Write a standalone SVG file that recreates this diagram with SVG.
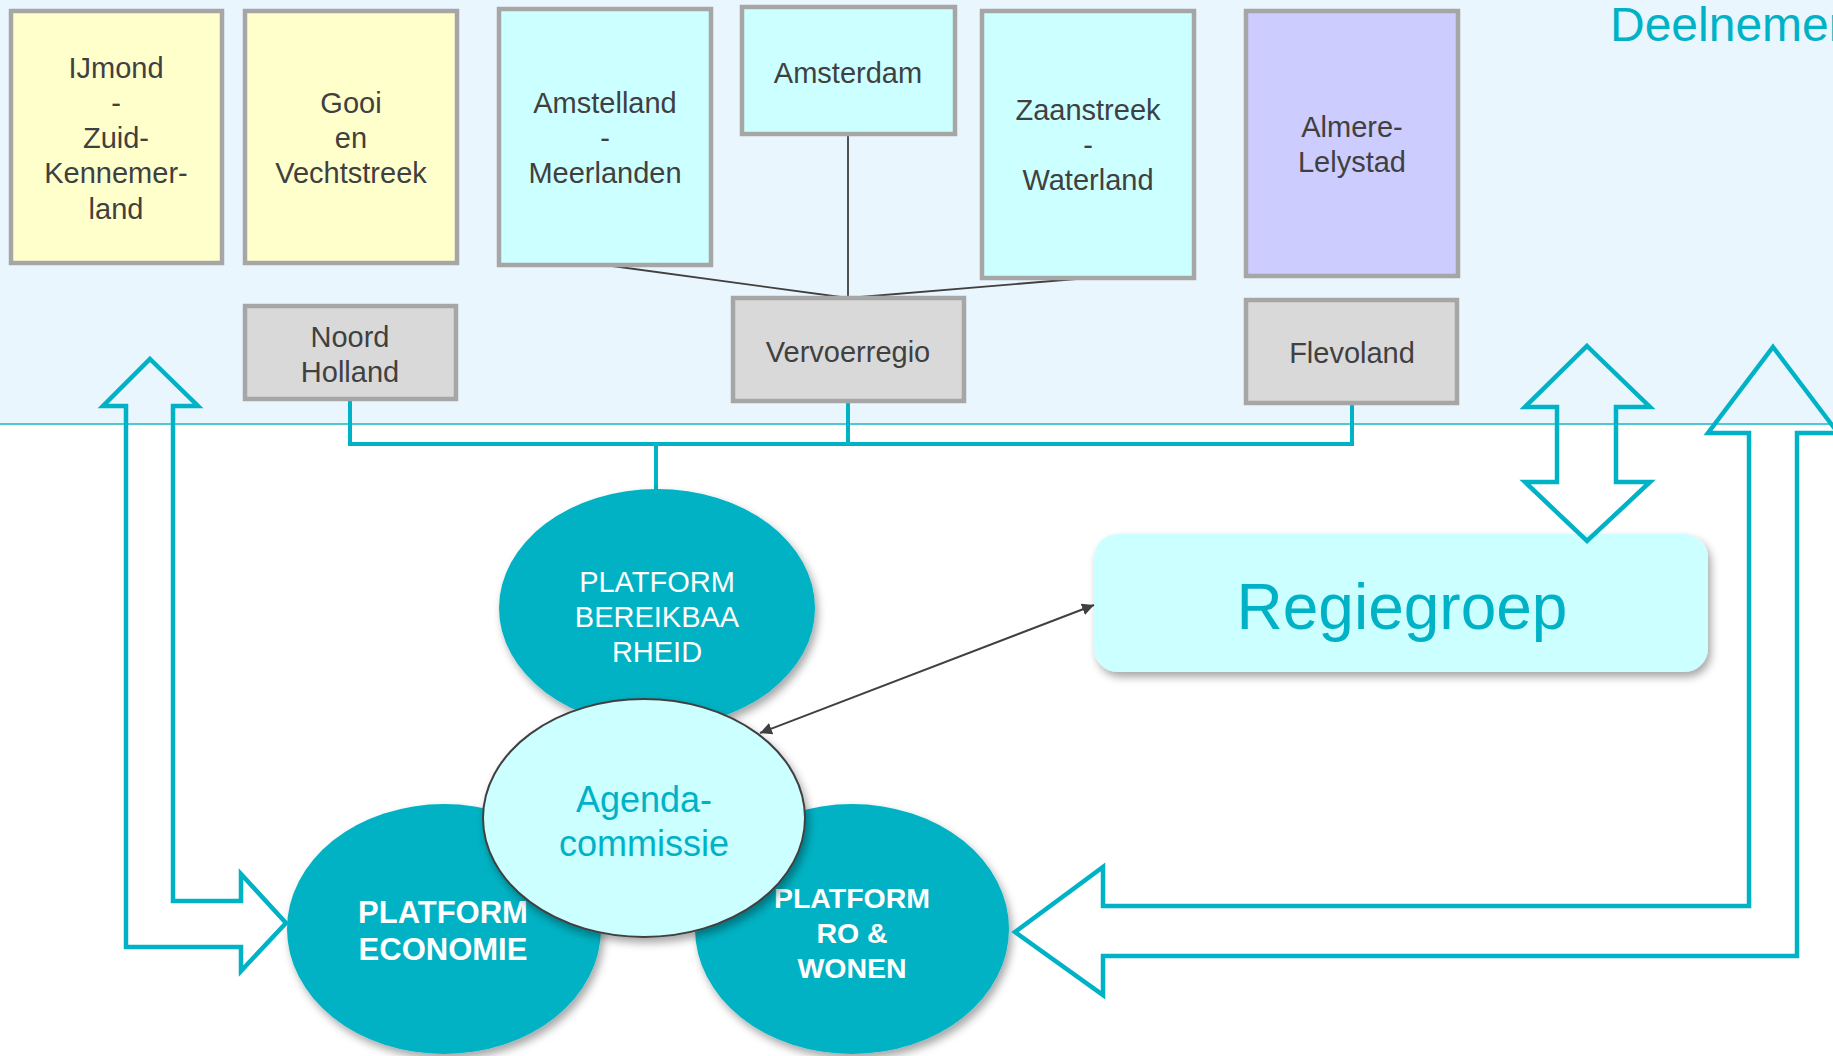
<svg xmlns="http://www.w3.org/2000/svg" width="1833" height="1056" viewBox="0 0 1833 1056">
<defs>
<style>
.box{stroke:#A6A6A6;stroke-width:4.5}
.yel{fill:#FFFFCC}
.cyn{fill:#CCFFFF}
.pur{fill:#CCCCFF}
.gry{fill:#D9D9D9}
.bt{font-family:"Liberation Sans",Arial,sans-serif;font-size:29px;fill:#404040;text-anchor:middle}
.wt{font-family:"Liberation Sans",Arial,sans-serif;fill:#FFFFFF;text-anchor:middle}
.ct{font-family:"Liberation Sans",Arial,sans-serif;fill:#00B2C6;text-anchor:middle}
.thin{stroke:#404040;stroke-width:1.8;fill:none}
.cline{stroke:#00B2C6;stroke-width:4;fill:none}
.bigarrow{stroke:#00B2C6;stroke-width:4.5;fill:none;stroke-linejoin:miter}
.plat{fill:#00B2C3}
</style>
<filter id="sh" x="-20%" y="-20%" width="150%" height="150%">
<feDropShadow dx="3" dy="5" stdDeviation="4" flood-color="#000" flood-opacity="0.35"/>
</filter>
<marker id="ah" viewBox="0 0 10 10" refX="10" refY="5" markerWidth="12" markerHeight="12" markerUnits="userSpaceOnUse" orient="auto-start-reverse">
<path d="M0,0 L10,5 L0,10 z" fill="#404040"/>
</marker>
</defs>

<rect x="0" y="0" width="1833" height="424" fill="#EAF6FE"/>
<rect x="0" y="424" width="1833" height="632" fill="#FFFFFF"/>
<line x1="0" y1="424" x2="1833" y2="424" stroke="#4FC8D6" stroke-width="2"/>

<text x="1610" y="41" font-family="Liberation Sans, Arial, sans-serif" font-size="48" fill="#00B2C6">Deelnemer</text>

<g id="connectors">
<line class="thin" x1="848" y1="134" x2="848" y2="298"/>
<line class="thin" x1="605" y1="265" x2="848" y2="298"/>
<line class="thin" x1="1088" y1="278" x2="848" y2="298"/>
<polyline class="cline" points="350,399 350,444 1352,444 1352,403"/>
<line class="cline" x1="848" y1="401" x2="848" y2="444"/>
<line class="cline" x1="656" y1="444" x2="656" y2="490"/>
</g>

<g id="ijmond"><rect class="box yel" x="11" y="11" width="211" height="252"/>
<text class="bt" x="116" y="78">IJmond</text><text class="bt" x="116" y="113">-</text><text class="bt" x="116" y="148">Zuid-</text><text class="bt" x="116" y="183">Kennemer-</text><text class="bt" x="116" y="219">land</text></g>
<g id="gooi"><rect class="box yel" x="245" y="11" width="212" height="252"/>
<text class="bt" x="351" y="113">Gooi</text><text class="bt" x="351" y="148">en</text><text class="bt" x="351" y="183">Vechtstreek</text></g>
<g id="amstelland"><rect class="box cyn" x="499" y="9" width="212" height="256"/>
<text class="bt" x="605" y="113">Amstelland</text><text class="bt" x="605" y="148">-</text><text class="bt" x="605" y="183">Meerlanden</text></g>
<g id="amsterdam"><rect class="box cyn" x="742" y="7" width="213" height="127"/>
<text class="bt" x="848" y="83">Amsterdam</text></g>
<g id="zaanstreek"><rect class="box cyn" x="982" y="11" width="212" height="267"/>
<text class="bt" x="1088" y="120">Zaanstreek</text><text class="bt" x="1088" y="155">-</text><text class="bt" x="1088" y="190">Waterland</text></g>
<g id="almere"><rect class="box pur" x="1246" y="11" width="212" height="265"/>
<text class="bt" x="1352" y="137">Almere-</text><text class="bt" x="1352" y="172">Lelystad</text></g>
<g id="noordholland"><rect class="box gry" x="245" y="306" width="211" height="93"/>
<text class="bt" x="350" y="347">Noord</text><text class="bt" x="350" y="382">Holland</text></g>
<g id="vervoerregio"><rect class="box gry" x="733" y="298" width="231" height="103"/>
<text class="bt" x="848" y="362">Vervoerregio</text></g>
<g id="flevoland"><rect class="box gry" x="1246" y="300" width="211" height="103"/>
<text class="bt" x="1352" y="363">Flevoland</text></g>

<g id="bereikbaarheid"><ellipse class="plat" cx="657" cy="608" rx="158" ry="119" filter="url(#sh)"/>
<text class="wt" font-size="29" x="657" y="592">PLATFORM</text><text class="wt" font-size="29" x="657" y="627">BEREIKBAA</text><text class="wt" font-size="29" x="657" y="662">RHEID</text></g>
<g id="economie"><ellipse class="plat" cx="444" cy="929" rx="157" ry="125" filter="url(#sh)"/>
<text class="wt" font-size="31" font-weight="bold" x="443" y="923">PLATFORM</text><text class="wt" font-size="31" font-weight="bold" x="443" y="960">ECONOMIE</text></g>
<g id="rowonen"><ellipse class="plat" cx="852" cy="929" rx="157" ry="125" filter="url(#sh)"/>
<text class="wt" font-size="28.5" font-weight="bold" x="852" y="908">PLATFORM</text><text class="wt" font-size="28.5" font-weight="bold" x="852" y="943">RO &amp;</text><text class="wt" font-size="28.5" font-weight="bold" x="852" y="978">WONEN</text></g>
<g id="agendacommissie"><ellipse cx="644" cy="818" rx="161" ry="119" fill="#CCFFFF" stroke="#404040" stroke-width="2" filter="url(#sh)"/>
<text class="ct" font-size="36" x="644" y="812">Agenda-</text><text class="ct" font-size="36" x="644" y="856">commissie</text></g>

<g id="regiegroep"><rect x="1094" y="534" width="614" height="138" rx="24" fill="#CCFFFF" filter="url(#sh)"/>
<text class="ct" font-size="64" x="1402" y="629">Regiegroep</text></g>

<g id="arrows">
<line x1="760" y1="733" x2="1094" y2="605" stroke="#404040" stroke-width="2" marker-start="url(#ah)" marker-end="url(#ah)"/>
<polygon class="bigarrow" points="150,359 198,406 173,406 173,901 241,901 241,874 286,923 241,971 241,947 126,947 126,406 103,406"/>
<polygon class="bigarrow" points="1773,347 1838,433 1797,433 1797,956 1103,956 1103,995 1015,932 1103,867 1103,906 1749,906 1749,433 1708,433"/>
<polygon class="bigarrow" points="1587,346 1650,407 1616,407 1616,482 1650,482 1587,541 1525,482 1557,482 1557,407 1525,407"/>
</g>
</svg>
